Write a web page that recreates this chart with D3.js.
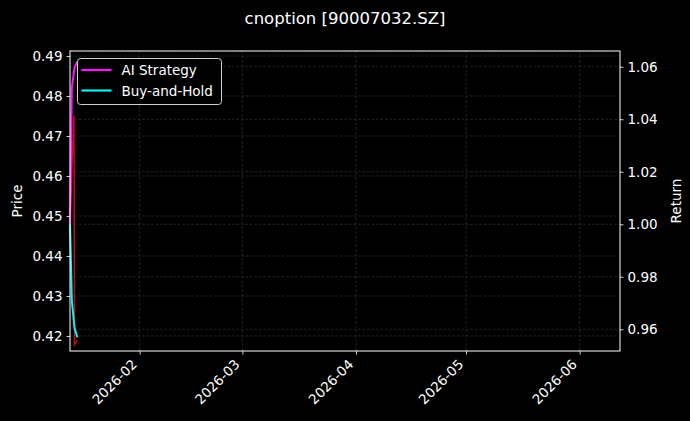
<!DOCTYPE html>
<html>
<head>
<meta charset="utf-8">
<script src="https://cdn.jsdelivr.net/npm/d3@7"></script>
<style>
  body { margin: 0; background: #000; }
  svg { display: block; font-family: "DejaVu Sans", sans-serif; }
</style>
</head>
<body>
<div id="chart"></div>
<script>
// data (only a couple of days in the window)
const dates = ["2026-01-13T00:00", "2026-01-13T12:00", "2026-01-14T02:00", "2026-01-14T06:00", "2026-01-15T00:00"]
const price = [0.448, 0.4615, 0.4752, 0.4178, 0.4190]
const aiStrategy = [1.000, 1.052, 1.058, 1.0598, 1.062]
const buyHold = [1.000, 0.971, 0.9627, 0.9604, 0.9570]

const priceTicks = [0.42, 0.43, 0.44, 0.45, 0.46, 0.47, 0.48, 0.49]
const returnTicks = [0.96, 0.98, 1.00, 1.02, 1.04, 1.06]
const monthTicks = ["2026-02-01", "2026-03-01", "2026-04-01", "2026-05-01", "2026-06-01"]
const xRange = ["2026-01-13T00:00", "2026-06-12T00:00"]

const seriesNames = ["AI Strategy", "Buy-and-Hold"]
const seriesColors = ["#ff14ff", "#14f0f0"]

var width = 690, height = 421
var margin = {top: 51, right: 70, bottom: 70, left: 70}
var innerW = width - margin.left - margin.right,
    innerH = height - margin.top - margin.bottom

const parse = d3.isoParse
let rows = dates.map((d, i) => ({date: parse(d), price: price[i], ai: aiStrategy[i], bh: buyHold[i]}))

let svg = d3.select("#chart").append("svg")
  .attr("width", width)
  .attr("height", height)

svg.append("rect").attr("width", width).attr("height", height).attr("fill", "#000")

let g = svg.append("g").attr("transform", "translate(" + margin.left + "," + margin.top + ")")

let x = d3.scaleTime()
  .domain(xRange.map(parse))
  .range([0, innerW])

let yPrice = d3.scaleLinear()
  .domain([0.41625, 0.49125])
  .range([innerH, 0])

let yRet = d3.scaleLinear()
  .domain([0.95174, 1.06598])
  .range([innerH, 0])

// grid, dashed and faint
let grid = g.append("g").attr("stroke", "#5a5a5a").attr("stroke-width", 0.6)
  .attr("stroke-dasharray", "2.5,2").attr("opacity", 0.7)
grid.selectAll(".gx").data(monthTicks.map(parse)).enter().append("line")
  .attr("x1", d => x(d)).attr("x2", d => x(d)).attr("y1", 0).attr("y2", innerH)
grid.selectAll(".gp").data(priceTicks).enter().append("line")
  .attr("x1", 0).attr("x2", innerW).attr("y1", d => yPrice(d)).attr("y2", d => yPrice(d))
grid.selectAll(".gr").data(returnTicks).enter().append("line")
  .attr("x1", 0).attr("x2", innerW).attr("y1", d => yRet(d)).attr("y2", d => yRet(d))

// price on the left axis
g.append("path")
  .datum(rows)
  .attr("fill", "none")
  .attr("stroke", "#e8141e")
  .attr("stroke-opacity", 0.8)
  .attr("stroke-width", 1.5)
  .attr("d", d3.line().x(d => x(d.date)).y(d => yPrice(d.price)))

// returns on the twin axis
g.append("path")
  .datum(rows)
  .attr("fill", "none")
  .attr("stroke", seriesColors[0])
  .attr("stroke-width", 2)
  .attr("d", d3.line().x(d => x(d.date)).y(d => yRet(d.ai)))

g.append("path")
  .datum(rows)
  .attr("fill", "none")
  .attr("stroke", seriesColors[1])
  .attr("stroke-width", 2)
  .attr("d", d3.line().x(d => x(d.date)).y(d => yRet(d.bh)))

// axes
function styleAxis(sel) {
  sel.selectAll("path").remove()
  sel.selectAll("line").attr("stroke", "#fff").attr("stroke-width", 0.8)
  sel.selectAll("text").attr("fill", "#fff").style("font-size", "13.5px").style("font-family", "DejaVu Sans")
}

g.append("g")
  .call(d3.axisLeft(yPrice).tickValues(priceTicks).tickFormat(d3.format(".2f")).tickSize(3.5).tickPadding(4))
  .call(styleAxis)

g.append("g")
  .attr("transform", "translate(" + innerW + ",0)")
  .call(d3.axisRight(yRet).tickValues(returnTicks).tickFormat(d3.format(".2f")).tickSize(3.5).tickPadding(4))
  .call(styleAxis)

let xAxis = g.append("g")
  .attr("transform", "translate(0," + innerH + ")")
  .call(d3.axisBottom(x).tickValues(monthTicks.map(parse)).tickFormat(d3.timeFormat("%Y-%m")).tickSize(3.5))
  .call(styleAxis)
xAxis.selectAll("text")
  .attr("y", null).attr("dy", null)
  .attr("text-anchor", "end")
  .attr("transform", "translate(-2.3,14.3) rotate(-45)")

// frame
g.append("rect")
  .attr("width", innerW).attr("height", innerH)
  .attr("fill", "none").attr("stroke", "#fff").attr("stroke-width", 1)

// axis titles
svg.append("text")
  .attr("transform", "translate(17," + (margin.top + innerH / 2) + ") rotate(-90)")
  .attr("text-anchor", "middle").attr("dominant-baseline", "central")
  .attr("fill", "#fff").style("font-size", "13.5px")
  .text("Price")

svg.append("text")
  .attr("transform", "translate(676," + (margin.top + innerH / 2) + ") rotate(-90)")
  .attr("text-anchor", "middle").attr("dominant-baseline", "central")
  .attr("fill", "#fff").style("font-size", "13.5px")
  .text("Return")

svg.append("text")
  .attr("x", width / 2).attr("y", 18)
  .attr("text-anchor", "middle").attr("dominant-baseline", "central")
  .attr("fill", "#fff").style("font-size", "16.5px")
  .text("cnoption [90007032.SZ]")

// legend
let legend = g.append("g").attr("transform", "translate(7.5,7.5)")
legend.append("rect")
  .attr("width", 144).attr("height", 46).attr("rx", 3)
  .attr("fill", "#000").attr("fill-opacity", 0.8)
  .attr("stroke", "#d0d0d0").attr("stroke-width", 1)

let item = legend.selectAll(".item").data(seriesNames).enter().append("g")
  .attr("transform", (d, i) => "translate(0," + (11.5 + i * 20.5) + ")")
item.append("line")
  .attr("x1", 4).attr("x2", 34)
  .attr("stroke", (d, i) => seriesColors[i]).attr("stroke-width", 2.2)
item.append("text")
  .attr("x", 44).attr("dominant-baseline", "central")
  .attr("fill", "#fff").style("font-size", "13.5px")
  .text(d => d)
</script>
</body>
</html>
